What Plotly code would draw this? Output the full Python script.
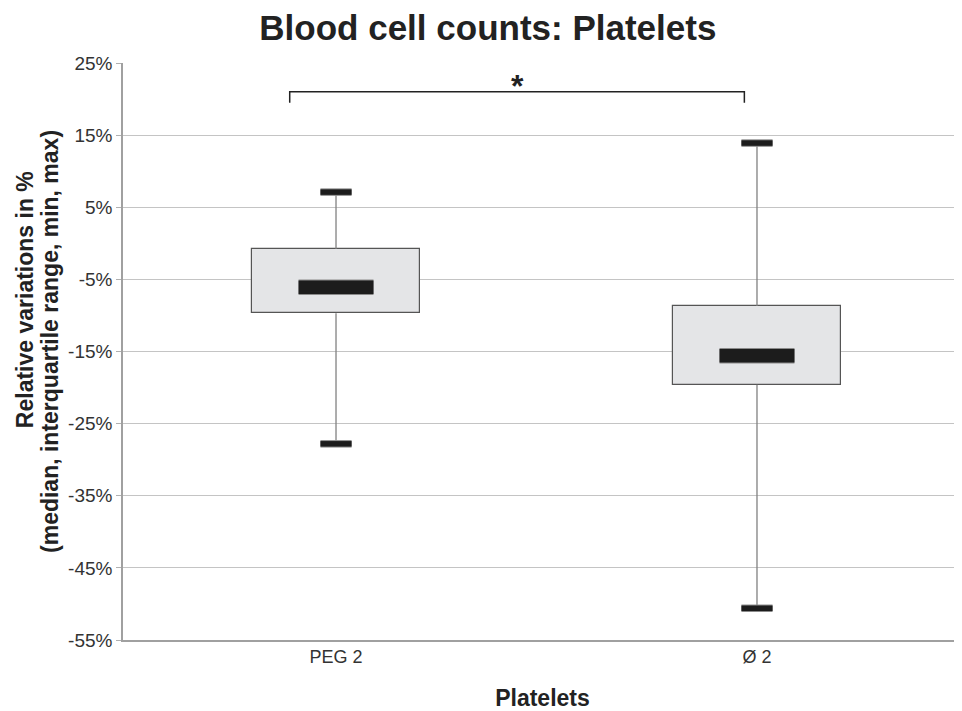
import plotly.graph_objects as go

# --- data (relative variation, %) ---
GROUPS = ['PEG 2', 'Ø 2']
MINS = [-27.8, -50.6]
Q1 = [-9.7, -19.6]
MEDIANS = [-6.1, -15.6]
Q3 = [-0.8, -8.7]
MAXS = [7.1, 13.9]

Y_TICKS = [-55, -45, -35, -25, -15, -5, 5, 15, 25]
Y_TICK_LABELS = ['-55%', '-45%', '-35%', '-25%', '-15%', '-5%', '5%', '15%', '25%']

# significance bracket between the two groups
BRACKET_X = [-0.11, 0.97]
BRACKET_TOP = 21.0
BRACKET_LEG = 19.5
BRACKET_LABEL = '*'
STAR_X = 0.43

# --- styling ---
BOX_W = 0.40
MED_W = 0.178
CAP_W = 0.074
FONT = 'Liberation Sans, Arial, sans-serif'

xs = list(range(len(GROUPS)))

fig = go.Figure()

# interquartile boxes
fig.add_trace(go.Bar(
    x=xs, base=Q1, y=[q3 - q1 for q1, q3 in zip(Q1, Q3)], width=BOX_W,
    marker=dict(color='#e4e5e7', line=dict(color='#555555', width=1.2)),
    hoverinfo='skip', showlegend=False))

# whiskers
wx, wy = [], []
for i in xs:
    wx += [i, i, None, i, i, None]
    wy += [MINS[i], Q1[i], None, Q3[i], MAXS[i], None]
fig.add_trace(go.Scatter(x=wx, y=wy, mode='lines',
                         line=dict(color='#808080', width=1.3),
                         hoverinfo='skip', showlegend=False))

# min / max caps and median bars (grey outline, black fill)
def seg(centers, vals, half):
    sx, sy = [], []
    for c, v in zip(centers, vals):
        sx += [c - half, c + half, None]
        sy += [v, v, None]
    return sx, sy

cx, cy = seg(xs + xs, MINS + MAXS, CAP_W / 2)
fig.add_trace(go.Scatter(x=cx, y=cy, mode='lines', line=dict(color='#8a8a8a', width=7.5),
                         hoverinfo='skip', showlegend=False))
fig.add_trace(go.Scatter(x=cx, y=cy, mode='lines', line=dict(color='#1c1c1c', width=5.5),
                         hoverinfo='skip', showlegend=False))

mx, my = seg(xs, MEDIANS, MED_W / 2)
fig.add_trace(go.Scatter(x=mx, y=my, mode='lines', line=dict(color='#8a8a8a', width=15.5),
                         hoverinfo='skip', showlegend=False))
fig.add_trace(go.Scatter(x=mx, y=my, mode='lines', line=dict(color='#1c1c1c', width=13.5),
                         hoverinfo='skip', showlegend=False))

# significance bracket
fig.add_trace(go.Scatter(
    x=[BRACKET_X[0], BRACKET_X[0], BRACKET_X[1], BRACKET_X[1]],
    y=[BRACKET_LEG, BRACKET_TOP, BRACKET_TOP, BRACKET_LEG],
    mode='lines', line=dict(color='#222222', width=1.5),
    hoverinfo='skip', showlegend=False))
fig.add_annotation(x=STAR_X, y=BRACKET_TOP, text='<b>' + BRACKET_LABEL + '</b>', showarrow=False,
                   xanchor='center', yanchor='bottom', yshift=-14,
                   font=dict(family=FONT, size=32, color='#222222'))

# y-axis title, two lines placed as in the original
fig.add_annotation(xref='paper', yref='paper', x=0, y=0.589, xshift=-98,
                   xanchor='center', yanchor='middle',
                   text='<b>Relative variations in %</b>', textangle=-90, showarrow=False,
                   font=dict(family=FONT, size=23, color='#222222'))
fig.add_annotation(xref='paper', yref='paper', x=0, y=0.5165, xshift=-73,
                   xanchor='center', yanchor='middle',
                   text='<b>(median, interquartile range, min, max)</b>', textangle=-90,
                   showarrow=False, font=dict(family=FONT, size=23, color='#222222'))

# page has an 8px body margin, so the figure is sized to fit the window
fig.update_layout(
    width=954, height=703,
    margin=dict(l=115, r=0, t=55, b=71),
    paper_bgcolor='white', plot_bgcolor='white',
    font=dict(family=FONT, color='#333333'),
    title=dict(text='<b>Blood cell counts: Platelets</b>', x=0.503, xanchor='center',
               y=0.972, yanchor='middle', font=dict(family=FONT, size=35, color='#222222')),
    bargap=0,
)
fig.update_xaxes(
    range=[-0.506, 1.487], tickvals=xs, ticktext=GROUPS,
    tickfont=dict(family=FONT, size=18, color='#333333'), ticks='', showgrid=False, zeroline=False,
    showline=True, linecolor='#a0a0a0', linewidth=1.5,
    title=dict(text='<b>Platelets</b>', font=dict(family=FONT, size=23, color='#222222'),
               standoff=24),
)
fig.update_yaxes(
    range=[-55, 25], tickvals=Y_TICKS, ticktext=Y_TICK_LABELS,
    tickfont=dict(family=FONT, size=19, color='#333333'),
    ticks='outside', ticklen=5, tickcolor='#b0b0b0',
    showgrid=True, gridcolor='#c4c4c4', gridwidth=1.2, zeroline=False,
    showline=True, linecolor='#a0a0a0', linewidth=1.5,
)

fig.write_html('out.html')
